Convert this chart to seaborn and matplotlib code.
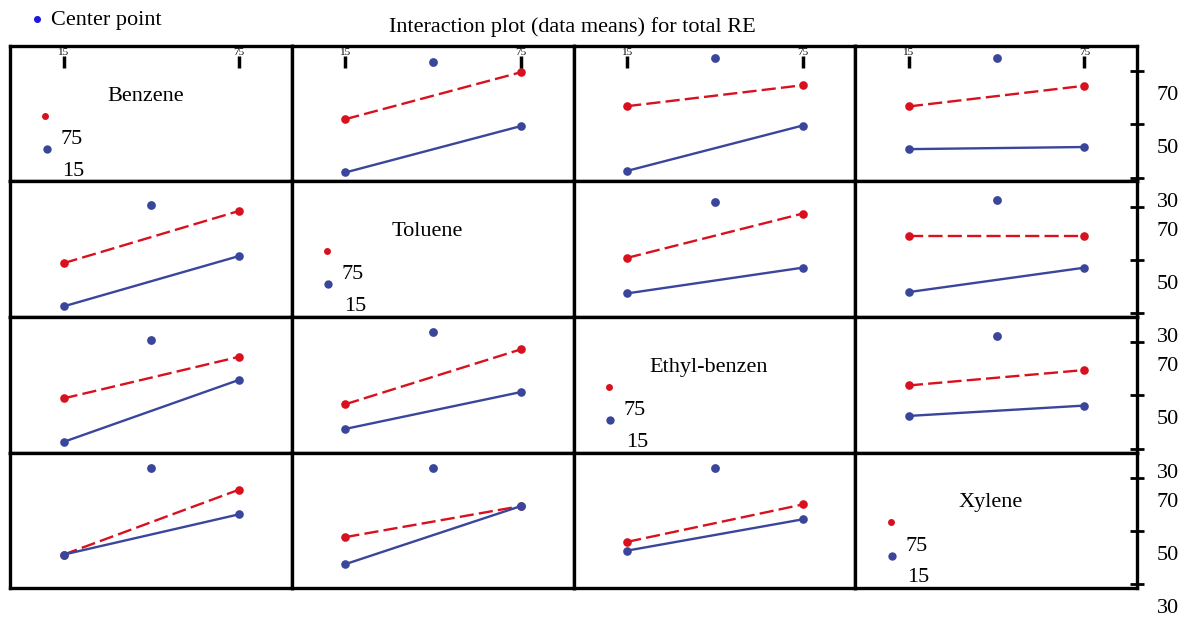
import numpy as np
import pandas as pd
import seaborn as sns
import matplotlib.pyplot as plt
from matplotlib.transforms import ScaledTranslation, blended_transform_factory

# factors of the design, levels and center point
factors = ['Benzene', 'Toluene', 'Ethyl-benzen', 'Xylene']
levels = [15, 75]
center_x = 45

# off-diagonal panels (row factor = line levels, column factor = x axis)
panel_row = [0, 0, 0, 1, 1, 1, 2, 2, 2, 3, 3, 3]
panel_col = [1, 2, 3, 0, 2, 3, 0, 1, 3, 0, 1, 2]

# means: line at level 15 (blue) and level 75 (red)
low_at_15 = [31.9, 32.5, 40.7, 32.5, 37.4, 37.9, 32.5, 37.4, 42.3, 41.1, 37.5, 42.6]
low_at_75 = [49.4, 49.6, 41.5, 51.5, 47.1, 47.1, 55.9, 51.3, 46.2, 56.3, 59.4, 54.4]
high_at_15 = [52.0, 56.9, 56.8, 48.8, 50.8, 59.1, 48.9, 46.7, 53.8, 41.1, 47.7, 45.9]
high_at_75 = [69.7, 64.8, 64.6, 68.5, 67.5, 59.1, 64.6, 67.4, 59.6, 65.6, 59.4, 60.0]
center_mean = [73.7, 75.2, 75.2, 70.8, 71.7, 72.7, 71.0, 74.1, 72.5, 73.7, 73.8, 73.7]

y_ticks = [30, 50, 70]

red = '#d9101e'
blue = '#3a459c'

rows = []
for k in range(len(panel_row)):
    rows.append((k, 15, 15, low_at_15[k]))
    rows.append((k, 15, 75, low_at_75[k]))
    rows.append((k, 75, 15, high_at_15[k]))
    rows.append((k, 75, 75, high_at_75[k]))
df = pd.DataFrame(rows, columns=['panel', 'level', 'x', 'mean'])
centers = pd.DataFrame({'panel': range(len(panel_row)), 'x': center_x, 'mean': center_mean})

sns.set_theme(style='white')
plt.rcParams['font.family'] = ['Liberation Serif', 'DejaVu Serif']
plt.rcParams['text.color'] = 'black'

fig, axes = plt.subplots(4, 4, figsize=(11.82, 6.18), dpi=100)
fig.subplots_adjust(left=0.0085, right=0.962, top=0.9256, bottom=0.0485,
                    wspace=0, hspace=0)

for ax in axes.flat:
    ax.set_xlim(-3.3, 93)
    ax.set_ylim(28.5, 79.6)
    ax.set_xticks([])
    ax.set_yticks([])
    for sp in ax.spines.values():
        sp.set_linewidth(2.4)
        sp.set_color('black')

for k in range(len(panel_row)):
    ax = axes[panel_row[k], panel_col[k]]
    sub = df[df['panel'] == k]
    sns.lineplot(data=sub, x='x', y='mean', hue='level', style='level',
                 hue_order=[75, 15], palette={75: red, 15: blue},
                 dashes={75: (6, 2.2), 15: ''}, markers={75: 'o', 15: 'o'},
                 markersize=6.2, markeredgewidth=0, linewidth=1.7,
                 legend=False, ax=ax)
    sns.scatterplot(data=centers[centers['panel'] == k], x='x', y='mean',
                    color=blue, s=40, linewidth=0, ax=ax, label='Center point',
                    legend=False)
    ax.set_xlabel('')
    ax.set_ylabel('')

# diagonal panels: factor name and level keys
for i, name in enumerate(factors):
    ax = axes[i, i]
    ax.text(0.48, 0.63, name, transform=ax.transAxes, ha='center', va='center',
            fontsize=16)
    ax.plot([0.125], [0.485], 'o', color=red, ms=5, mew=0, transform=ax.transAxes)
    ax.plot([0.13], [0.24], 'o', color=blue, ms=6, mew=0, transform=ax.transAxes)
    ax.text(0.178, 0.31, '75', transform=ax.transAxes, va='center', fontsize=16)
    ax.text(0.185, 0.075, '15', transform=ax.transAxes, va='center', fontsize=16)

# little x ticks inside the top row
for ax in axes[0]:
    tr = blended_transform_factory(ax.transData, ax.transAxes)
    ax.plot(levels, [0.885, 0.885], ls='', marker='|', ms=8, mew=2.5,
            color='black', transform=tr, clip_on=False)
    for lv in levels:
        ax.text(lv, 0.955, str(lv), transform=tr, ha='center', va='center',
                fontsize=8)

# right hand scale, labels sit below their ticks as in the original
offset = ScaledTranslation(0, -0.22, fig.dpi_scale_trans)
for ax in axes[:, 3]:
    ax.yaxis.tick_right()
    ax.set_yticks(y_ticks)
    ax.tick_params(axis='y', right=True, direction='inout', length=10, width=2,
                   labelsize=16, pad=9, colors='black')
    for lab in ax.get_yticklabels():
        lab.set_transform(lab.get_transform() + offset)

fig.text(0.484, 0.956, 'Interaction plot (data means) for total RE',
         ha='center', va='center', fontsize=16)

h, l = axes[0, 1].get_legend_handles_labels()
leg = fig.legend(h[:1], l[:1], loc='center left', bbox_to_anchor=(0.026, 0.968),
                 frameon=False, fontsize=16, handlelength=0.6, handletextpad=0.3,
                 borderpad=0.0, borderaxespad=0.0, markerscale=0.8)
leg.legend_handles[0].set_color('#1a1ad8')

fig.savefig('out.png', dpi=100)
